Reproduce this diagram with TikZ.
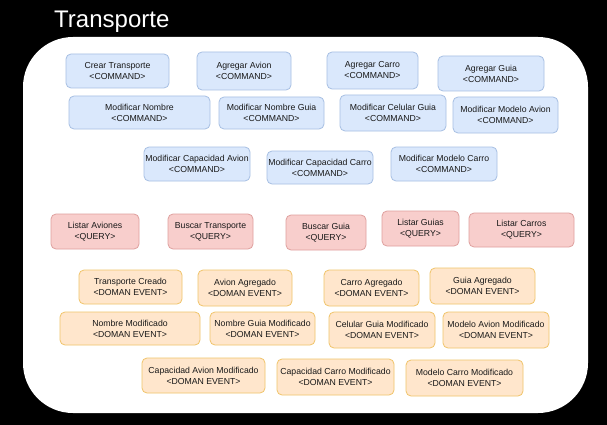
\documentclass[tikz,border=0pt]{standalone}
\usepackage{fontspec}
\setmainfont{Liberation Sans}
\usepackage{xcolor}

\definecolor{cmdfill}{HTML}{DAE8FC}
\definecolor{cmdline}{HTML}{A7BFE3}
\definecolor{qryfill}{HTML}{F8CECC}
\definecolor{qryline}{HTML}{DFA09E}
\definecolor{evtfill}{HTML}{FFE6CC}
\definecolor{evtline}{HTML}{F0C46A}

\begin{document}
\begin{tikzpicture}[x=1pt, y=-1pt,
    box/.style={rounded corners=5pt, line width=0.8pt, align=center, inner sep=0pt,
        font=\fontsize{8.7}{11}\selectfont, text=black!90},
    boxsize/.style 2 args={minimum width=#1, minimum height=#2},
    command/.style={box, fill=cmdfill, draw=cmdline},
    query/.style={box, fill=qryfill, draw=qryline},
    event/.style={box, fill=evtfill, draw=evtline}]

    % fondo y contexto
    \fill[black] (0,0) rectangle (607,425);
    \fill[white, rounded corners=50pt] (23,37) rectangle (588,413);
    \node[anchor=base west, inner sep=0pt, text=white, font=\fontsize{24}{28}\selectfont]
        (titulo) at (54,28) {Transporte};

    % comandos
    \node[command, boxsize={103pt}{34pt}] (crearTransporte) at (117.5,71) {Crear Transporte\\<COMMAND>};
    \node[command, boxsize={94pt}{38pt}] (agregarAvion) at (244,71) {Agregar Avion\\<COMMAND>};
    \node[command, boxsize={91pt}{37pt}] (agregarCarro) at (372.5,70.5) {Agregar Carro\\<COMMAND>};
    \node[command, boxsize={106pt}{35pt}] (agregarGuia) at (491,73.5) {Agregar Guia\\<COMMAND>};
    \node[command, boxsize={141pt}{33pt}] (modNombre) at (139.5,112.5) {Modificar Nombre\\<COMMAND>};
    \node[command, boxsize={105pt}{32pt}] (modNombreGuia) at (271.5,113) {Modificar Nombre Guia\\<COMMAND>};
    \node[command, boxsize={106pt}{36pt}] (modCelularGuia) at (393,113) {Modificar Celular Guia\\<COMMAND>};
    \node[command, boxsize={105pt}{36pt}] (modModeloAvion) at (505.5,115) {Modificar Modelo Avion\\<COMMAND>};
    \node[command, boxsize={106pt}{34pt}] (modCapAvion) at (197,164) {Modificar Capacidad Avion\\<COMMAND>};
    \node[command, boxsize={106pt}{33pt}] (modCapCarro) at (320,167.5) {Modificar Capacidad Carro\\<COMMAND>};
    \node[command, boxsize={106pt}{34pt}] (modModeloCarro) at (444,164) {Modificar Modelo Carro\\<COMMAND>};

    % consultas
    \node[query, boxsize={88pt}{35pt}] (listarAviones) at (95,231.5) {Listar Aviones\\<QUERY>};
    \node[query, boxsize={85pt}{35pt}] (buscarTransporte) at (210.5,231.5) {Buscar Transporte\\<QUERY>};
    \node[query, boxsize={80pt}{35pt}] (buscarGuia) at (326,232.5) {Buscar Guia\\<QUERY>};
    \node[query, boxsize={77pt}{35pt}] (listarGuias) at (420.5,228.5) {Listar Guias\\<QUERY>};
    \node[query, boxsize={105pt}{34pt}] (listarCarros) at (521.5,230) {Listar Carros\\<QUERY>};

    % eventos de dominio
    \node[event, boxsize={103pt}{34pt}] (transporteCreado) at (130.5,287) {Transporte Creado\\<DOMAN EVENT>};
    \node[event, boxsize={94pt}{36pt}] (avionAgregado) at (245,288) {Avion Agregado\\<DOMAN EVENT>};
    \node[event, boxsize={95pt}{36pt}] (carroAgregado) at (371.5,288) {Carro Agregado\\<DOMAN EVENT>};
    \node[event, boxsize={105pt}{36pt}] (guiaAgregado) at (482.5,286) {Guia Agregado\\<DOMAN EVENT>};
    \node[event, boxsize={140pt}{33pt}] (nombreMod) at (130,328.5) {Nombre Modificado\\<DOMAN EVENT>};
    \node[event, boxsize={105pt}{33pt}] (nombreGuiaMod) at (262.5,328.5) {Nombre Guia Modificado\\<DOMAN EVENT>};
    \node[event, boxsize={106pt}{36pt}] (celularGuiaMod) at (382,330) {Celular Guia Modificado\\<DOMAN EVENT>};
    \node[event, boxsize={106pt}{36pt}] (modeloAvionMod) at (496,330) {Modelo Avion Modificado\\<DOMAN EVENT>};
    \node[event, boxsize={123pt}{35pt}] (capAvionMod) at (203.5,375.5) {Capacidad Avion Modificado\\<DOMAN EVENT>};
    \node[event, boxsize={117pt}{36pt}] (capCarroMod) at (335.5,377) {Capacidad Carro Modificado\\<DOMAN EVENT>};
    \node[event, boxsize={117pt}{36pt}] (modeloCarroMod) at (464.5,378) {Modelo Carro Modificado\\<DOMAN EVENT>};
\end{tikzpicture}
\end{document}
